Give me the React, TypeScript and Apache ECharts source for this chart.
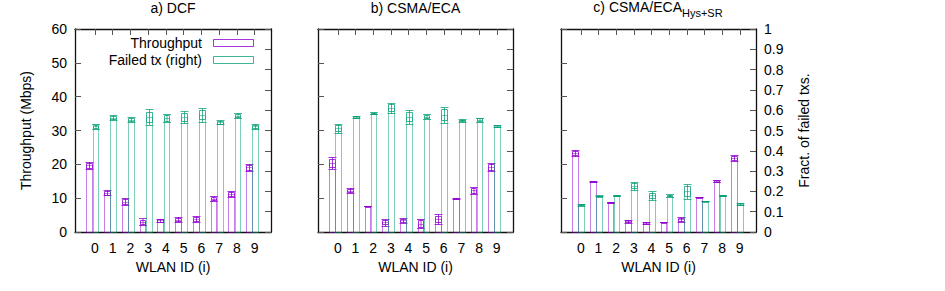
import React, { useEffect, useRef } from 'react';
import * as echarts from 'echarts';

// ---- data ----
const wlanIds = [0, 1, 2, 3, 4, 5, 6, 7, 8, 9];

const dcfThroughput = [19.7, 11.6, 9.0, 3.0, 3.4, 3.6, 3.9, 9.9, 11.3, 19.1];
const dcfThroughputErr = [1.0, 0.8, 1.0, 1.0, 0.5, 0.7, 0.9, 0.7, 0.9, 1.1];
const dcfFailed = [0.52, 0.563, 0.553, 0.567, 0.562, 0.566, 0.577, 0.54, 0.573, 0.52];
const dcfFailedErr = [0.012, 0.012, 0.013, 0.038, 0.02, 0.03, 0.035, 0.01, 0.012, 0.012];

const ecaThroughput = [20.3, 12.2, 7.7, 2.9, 3.4, 2.5, 3.9, 9.9, 12.3, 19.2];
const ecaThroughputErr = [1.8, 0.7, 0.1, 1.0, 0.6, 1.4, 1.4, 0.2, 1.0, 1.2];
const ecaFailed = [0.512, 0.566, 0.585, 0.612, 0.568, 0.568, 0.578, 0.55, 0.554, 0.522];
const ecaFailedErr = [0.022, 0.006, 0.004, 0.025, 0.035, 0.012, 0.04, 0.006, 0.01, 0.005];

const hysThroughput = [23.4, 15.0, 8.8, 3.2, 2.7, 2.9, 3.7, 10.3, 15.1, 22.0];
const hysThroughputErr = [0.9, 0.1, 0.1, 0.4, 0.3, 0.05, 0.6, 0.1, 0.4, 0.9];
const hysFailed = [0.135, 0.178, 0.18, 0.228, 0.18, 0.179, 0.2, 0.153, 0.18, 0.139];
const hysFailedErr = [0.005, 0.002, 0.002, 0.02, 0.02, 0.006, 0.038, 0.002, 0.002, 0.006];

const seriesNames = ['Throughput', 'Failed tx (right)'];
const leftAxisName = 'Throughput (Mbps)';
const rightAxisName = 'Fract. of failed txs.';
const xAxisName = 'WLAN ID (i)';

// ---- layout / style ----
const X_MIN = -1.12;
const X_MAX = 9.92;
const BAR_W = 0.32;
const PURPLE_OFF = -0.32;
const GREEN_OFF = 0.03;
const PURPLE = 'rgba(148,0,211,0.5)';
const PURPLE_ERR = 'rgba(148,0,211,0.8)';
const GREEN = 'rgba(0,158,115,0.5)';
const GREEN_ERR = 'rgba(0,158,115,0.75)';
const FONT = '"Liberation Sans", Arial, Helvetica, sans-serif';
const FS = 14;

const grids = [
  { left: 75, width: 196 },
  { left: 318, width: 195 },
  { left: 561, width: 195 },
];
const GRID_TOP = 29;
const GRID_H = 203;

const panels = [
  { thr: dcfThroughput, thrErr: dcfThroughputErr, fail: dcfFailed, failErr: dcfFailedErr },
  { thr: ecaThroughput, thrErr: ecaThroughputErr, fail: ecaFailed, failErr: ecaFailedErr },
  { thr: hysThroughput, thrErr: hysThroughputErr, fail: hysFailed, failErr: hysFailedErr },
];

const makeRender = (offset: number, color: string, errColor: string) => (params: any, api: any) => {
  const x = api.value(0) as number;
  const v = api.value(1) as number;
  const e = api.value(2) as number;
  const cx = x + offset;
  const pTop = api.coord([cx - BAR_W / 2, v]);
  const pBot = api.coord([cx + BAR_W / 2, 0]);
  const left = Math.round(pTop[0]) + 0.5;
  const right = Math.round(pBot[0]) + 0.5;
  const top = Math.round(pTop[1]) + 0.5;
  const bottom = Math.round(pBot[1]) + 0.5;
  const mid = (left + right) / 2;
  const yHi = Math.round(api.coord([cx, v + e])[1]) + 0.5;
  const yLo = Math.round(api.coord([cx, v - e])[1]) + 0.5;
  const bHi = Math.round(api.coord([cx, v + e * 0.65])[1]) + 0.5;
  const bLo = Math.round(api.coord([cx, v - e * 0.65])[1]) + 0.5;
  const errStyle = { stroke: errColor, lineWidth: 1, fill: 'none' };
  return {
    type: 'group',
    children: [
      {
        type: 'rect',
        shape: { x: left, y: top, width: right - left, height: bottom - top },
        style: { fill: 'none', stroke: color, lineWidth: 1 },
      },
      {
        type: 'rect',
        shape: { x: left, y: bHi, width: right - left, height: Math.max(bLo - bHi, 1) },
        style: errStyle,
      },
      { type: 'line', shape: { x1: mid, y1: yHi, x2: mid, y2: yLo }, style: errStyle },
      { type: 'line', shape: { x1: mid - 4, y1: yHi, x2: mid + 4, y2: yHi }, style: errStyle },
      { type: 'line', shape: { x1: mid - 4, y1: yLo, x2: mid + 4, y2: yLo }, style: errStyle },
    ],
  };
};

export default function App() {
  const ref = useRef<HTMLDivElement>(null);

  useEffect(() => {
    document.body.style.margin = '0';
    if (!ref.current) return;
    const chart = echarts.init(ref.current, undefined, { renderer: 'svg' });

    const axisLine = { show: true, onZero: false, lineStyle: { color: '#111', width: 1.3 } };
    const tickStyle = { color: '#555', width: 1 };
    const txt = { fontSize: FS, color: '#000', fontFamily: FONT };

    const xAxis: any[] = [];
    const yAxis: any[] = [];
    const series: any[] = [];

    grids.forEach((g, i) => {
      xAxis.push({
        type: 'value',
        gridIndex: i,
        position: 'bottom',
        min: X_MIN,
        max: X_MAX,
        name: xAxisName,
        nameLocation: 'middle',
        nameGap: 27,
        nameTextStyle: txt,
        axisLine,
        axisTick: { show: false },
        splitLine: { show: false },
        axisLabel: { customValues: wlanIds, margin: 9, ...txt },
      });
    });
    grids.forEach((g, i) => {
      xAxis.push({
        type: 'value',
        gridIndex: i,
        position: 'top',
        min: X_MIN,
        max: X_MAX,
        axisLine,
        axisTick: { show: true, inside: true, length: 6, customValues: wlanIds, lineStyle: tickStyle },
        axisLabel: { show: false },
        splitLine: { show: false },
      });
    });
    grids.forEach((g, i) => {
      yAxis.push({
        type: 'value',
        gridIndex: i,
        position: 'left',
        min: 0,
        max: 60,
        interval: 10,
        name: i === 0 ? leftAxisName : '',
        nameLocation: 'middle',
        nameGap: 42,
        nameRotate: 90,
        nameTextStyle: txt,
        axisLine,
        axisTick: { show: true, inside: true, length: 6, lineStyle: tickStyle },
        axisLabel: { show: i === 0, margin: 8, ...txt },
        splitLine: { show: false },
      });
    });
    grids.forEach((g, i) => {
      yAxis.push({
        type: 'value',
        gridIndex: i,
        position: 'right',
        min: 0,
        max: 1,
        interval: 0.1,
        name: i === 2 ? rightAxisName : '',
        nameLocation: 'middle',
        nameGap: 41,
        nameRotate: 90,
        nameTextStyle: txt,
        axisLine,
        axisTick: { show: true, inside: true, length: 6, lineStyle: tickStyle },
        axisLabel: { show: i === 2, margin: 8, ...txt },
        splitLine: { show: false },
      });
    });

    panels.forEach((p, i) => {
      series.push({
        type: 'custom',
        name: seriesNames[0],
        xAxisIndex: i,
        yAxisIndex: i,
        renderItem: makeRender(PURPLE_OFF, PURPLE, PURPLE_ERR),
        data: wlanIds.map((id, k) => [id, p.thr[k], p.thrErr[k]]),
        clip: false,
      });
      series.push({
        type: 'custom',
        name: seriesNames[1],
        xAxisIndex: i,
        yAxisIndex: 3 + i,
        renderItem: makeRender(GREEN_OFF, GREEN, GREEN_ERR),
        data: wlanIds.map((id, k) => [id, p.fail[k], p.failErr[k]]),
        clip: false,
      });
    });

    const titleFont = `${FS}px ${FONT}`;
    const graphic: any[] = [
      {
        type: 'text',
        x: 173,
        y: 8,
        style: { text: 'a) DCF', font: titleFont, fill: '#000', align: 'center', verticalAlign: 'middle' },
      },
      {
        type: 'text',
        x: 415.5,
        y: 8,
        style: { text: 'b) CSMA/ECA', font: titleFont, fill: '#000', align: 'center', verticalAlign: 'middle' },
      },
      {
        type: 'text',
        x: 658,
        y: 9,
        style: {
          text: '{m|c) CSMA/ECA}{s|Hys+SR}',
          fill: '#000',
          align: 'center',
          verticalAlign: 'middle',
          rich: {
            m: { fontSize: FS, fontFamily: FONT, padding: [0, 0, 4, 0], verticalAlign: 'bottom' },
            s: { fontSize: 11, fontFamily: FONT, verticalAlign: 'bottom' },
          },
        },
      },
      {
        type: 'text',
        x: 202,
        y: 43,
        style: { text: seriesNames[0], font: titleFont, fill: '#000', align: 'right', verticalAlign: 'middle' },
      },
      {
        type: 'rect',
        shape: { x: 213.5, y: 39.5, width: 40, height: 7 },
        style: { fill: 'none', stroke: PURPLE_ERR, lineWidth: 1 },
      },
      {
        type: 'text',
        x: 202,
        y: 59.5,
        style: { text: seriesNames[1], font: titleFont, fill: '#000', align: 'right', verticalAlign: 'middle' },
      },
      {
        type: 'rect',
        shape: { x: 213.5, y: 56.5, width: 40, height: 7 },
        style: { fill: 'none', stroke: GREEN_ERR, lineWidth: 1 },
      },
    ];

    chart.setOption({
      animation: false,
      backgroundColor: '#fff',
      textStyle: { fontFamily: FONT },
      grid: grids.map((g) => ({ left: g.left, width: g.width, top: GRID_TOP, height: GRID_H })),
      xAxis,
      yAxis,
      series,
      graphic,
    });

    return () => chart.dispose();
  }, []);

  return (
    <div
      ref={ref}
      style={{ position: 'fixed', left: 0, top: 0, width: 945, height: 291, background: '#fff' }}
    />
  );
}
